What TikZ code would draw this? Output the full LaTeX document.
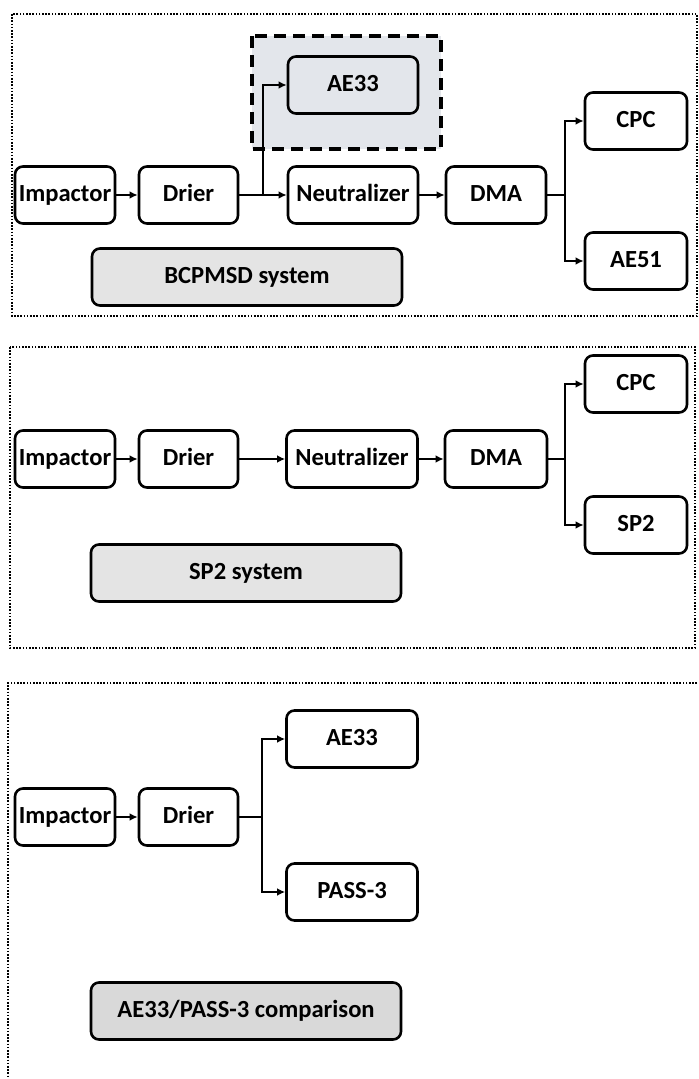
\documentclass[tikz,border=0pt]{standalone}
\usepackage{fontspec}
\setmainfont{Carlito}
\usepackage{tikz}
\usetikzlibrary{arrows.meta}
\definecolor{sysgray}{HTML}{E4E4E4}
\definecolor{sysdark}{HTML}{D9D9D9}
\definecolor{aeshade}{HTML}{E3E6EB}

\begin{document}
\begin{tikzpicture}[x=.5pt, y=-.5pt,
	box/.style={draw, rounded corners=4pt, line width=1.3pt, minimum height=28.5pt, inner sep=0pt, text height=1.45ex, text depth=.1ex, font=\bfseries\fontsize{12.3}{14}\selectfont},
	sysbox/.style={box, minimum width=155pt},
	flow/.style={-{Latex[length=4pt,width=3.8pt]}, line width=1.2pt},
	link/.style={line width=1.2pt},
	frame/.style={line width=1pt, dash pattern=on .8pt off .8pt}]
	\useasboundingbox (0,0) rectangle (698,1079);

	% frames round the three set-ups
	\draw[frame] (12,14) rectangle (697,316);
	\draw[frame, line width=.7pt] (10,347) rectangle (695,648);
	\draw[frame] (697,683) -- (8,683) -- (8,1079);

	% AE33 added to the BCPMSD line
	\draw[fill=aeshade, line width=1.6pt, dash pattern=on 6pt off 3.5pt] (252,36) rectangle (441,149);

	% inlet part, the same in all three
	\foreach \i/\y in {1/195,2/459,3/817} {
		\node[box, minimum width=50pt] (imp\i) at (65,\y) {Impactor};
		\node[box, minimum width=49.5pt] (dri\i) at (188.5,\y) {Drier};
		\draw[flow] (imp\i) -- (dri\i);
	}

	% BCPMSD system
	\node[box, minimum width=65pt] (aeA) at (353,85) {AE33};
	\node[box, minimum width=65pt] (neu1) at (353,195) {Neutralizer};
	\node[box, minimum width=50pt] (dma1) at (496,195) {DMA};
	\node[box, minimum width=51pt] (cpc1) at (636,121) {CPC};
	\node[box, minimum width=51pt] (ae51) at (636,261) {AE51};
	\node[sysbox, fill=sysgray] (sys1) at (247,277) {BCPMSD system};
	\coordinate (jdri1) at (263,195);
	\coordinate (jdma1) at (565,195);
	\draw[link] (dri1) -- (jdri1);
	\draw[flow] (jdri1) |- (aeA);
	\draw[flow] (jdri1) -- (neu1);
	\draw[flow] (neu1) -- (dma1);
	\draw[link] (dma1) -- (jdma1);
	\draw[flow] (jdma1) |- (cpc1);
	\draw[flow] (jdma1) |- (ae51);

	% SP2 system
	\node[box, minimum width=65.5pt] (neu2) at (352,459) {Neutralizer};
	\node[box, minimum width=51pt] (dma2) at (496,459) {DMA};
	\node[box, minimum width=51pt] (cpc2) at (636,384) {CPC};
	\node[box, minimum width=51pt] (sp2) at (636,525) {SP2};
	\node[sysbox, fill=sysgray] (sys2) at (246,573) {SP2 system};
	\coordinate (jdma2) at (565,459);
	\draw[flow] (dri2) -- (neu2);
	\draw[flow] (neu2) -- (dma2);
	\draw[link] (dma2) -- (jdma2);
	\draw[flow] (jdma2) |- (cpc2);
	\draw[flow] (jdma2) |- (sp2);

	% AE33/PASS-3 comparison
	\node[box, minimum width=65.5pt] (aeB) at (352,739) {AE33};
	\node[box, minimum width=65.5pt] (pass) at (352,892) {PASS-3};
	\node[sysbox, fill=sysdark] (sys3) at (246,1011) {AE33/PASS-3 comparison};
	\coordinate (jdri3) at (262,817);
	\draw[link] (dri3) -- (jdri3);
	\draw[flow] (jdri3) |- (aeB);
	\draw[flow] (jdri3) |- (pass);
\end{tikzpicture}
\end{document}
